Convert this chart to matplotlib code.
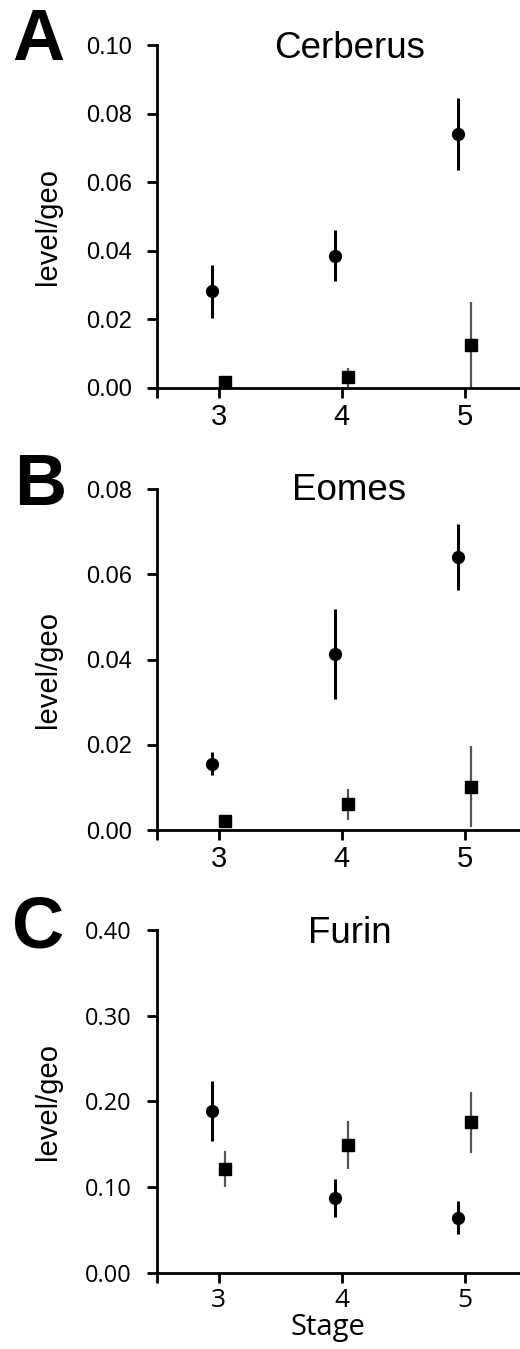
import matplotlib
matplotlib.use('Agg')
import matplotlib.pyplot as plt
from matplotlib import font_manager

# stage on x, two series per gene (circles / squares)
stages = [3, 4, 5]

cerberus_circ = [0.0282, 0.0386, 0.0741]
cerberus_circ_err = [0.0078, 0.0075, 0.0104]
cerberus_sq = [0.0017, 0.0031, 0.0124]
cerberus_sq_err = [0.0005, 0.0027, 0.0128]

eomes_circ = [0.0155, 0.0413, 0.0641]
eomes_circ_err = [0.0027, 0.0106, 0.0077]
eomes_sq = [0.0022, 0.0060, 0.0102]
eomes_sq_err = [0.0005, 0.0036, 0.0096]

furin_circ = [0.189, 0.0875, 0.0642]
furin_circ_err = [0.035, 0.022, 0.019]
furin_sq = [0.1206, 0.149, 0.1755]
furin_sq_err = [0.021, 0.028, 0.036]

genes = ['Cerberus', 'Eomes', 'Furin']
letters = ['A', 'B', 'C']
ymax = [0.10, 0.08, 0.40]
ystep = [0.02, 0.02, 0.10]


def has_font(name):
    try:
        font_manager.findfont(name, fallback_to_default=False)
        return True
    except Exception:
        return False


SANS = 'Liberation Sans'
NARROW = 'Liberation Sans Narrow' if has_font('Liberation Sans Narrow') else SANS
OPEN = 'Open Sans' if has_font('Open Sans') else SANS

fig = plt.figure(figsize=(5.2, 13.49), dpi=100)

# [left, bottom, width, height] in figure fraction
boxes = [[0.3019, 0.7124, 0.6981, 0.2542],
         [0.3019, 0.3847, 0.6981, 0.2528],
         [0.3019, 0.0565, 0.6981, 0.2541]]
letter_pos = [(0.024, 0.9555), (0.028, 0.6257), (0.024, 0.2975)]
title_off = [13, 11, 13]

data = [
    (cerberus_circ, cerberus_circ_err, cerberus_sq, cerberus_sq_err),
    (eomes_circ, eomes_circ_err, eomes_sq, eomes_sq_err),
    (furin_circ, furin_circ_err, furin_sq, furin_sq_err),
]

for i in range(3):
    ax = fig.add_axes(boxes[i])
    circ, circ_err, sq, sq_err = data[i]
    xc = [s - 0.05 for s in stages]
    xs = [s + 0.05 for s in stages]

    ax.errorbar(xs, sq, yerr=sq_err, fmt='s', color='black', ms=8.5,
                ecolor='#555555', elinewidth=1.6, capsize=0)
    ax.errorbar(xc, circ, yerr=circ_err, fmt='o', color='black', ms=8.5,
                ecolor='black', elinewidth=2.2, capsize=0)

    ax.set_xlim(2.5, 5.45)
    ax.set_ylim(0, ymax[i])
    n = int(round(ymax[i] / ystep[i]))
    ax.set_yticks([k * ystep[i] for k in range(n + 1)])
    ax.set_yticklabels(['%.2f' % (k * ystep[i]) for k in range(n + 1)])
    ax.set_xticks([2.5, 3, 4, 5])
    ax.set_xticklabels(['', '3', '4', '5'])

    for side in ['top', 'right']:
        ax.spines[side].set_visible(False)
    for side in ['left', 'bottom']:
        ax.spines[side].set_linewidth(2.0)

    tick_font = OPEN if i == 2 else SANS
    ax.tick_params(axis='y', direction='out', length=7, width=2.0, pad=11,
                   labelsize=17)
    ax.tick_params(axis='x', direction='out', length=7, width=2.0, pad=4,
                   labelsize=21)
    for lab in ax.get_yticklabels():
        lab.set_family(tick_font)
    for lab in ax.get_xticklabels():
        lab.set_family(tick_font if i == 2 else NARROW)
        if i == 2:
            lab.set_fontsize(19)

    ax.set_ylabel('level/geo', fontsize=21, family=SANS)
    ax.yaxis.set_label_coords(-0.262, 0.472 if i < 2 else 0.50)

    ax.annotate(genes[i], xy=(0.53, 1.0), xycoords='axes fraction',
                xytext=(0, -title_off[i] * 0.72), textcoords='offset points',
                ha='center', va='baseline', fontsize=26.5, family=SANS)

    fig.text(letter_pos[i][0], letter_pos[i][1], letters[i], fontsize=52,
             fontweight='bold', family=SANS, ha='left', va='baseline')

    if i == 2:
        ax.set_xlabel('Stage', fontsize=21, family=OPEN)
        ax.xaxis.set_label_coords(0.471, -0.118)

fig.savefig('out.png', dpi=100)
